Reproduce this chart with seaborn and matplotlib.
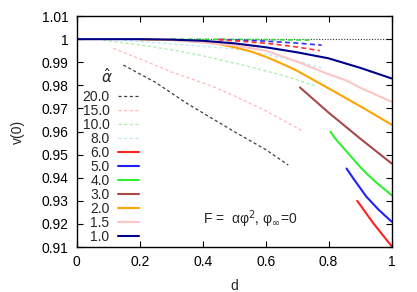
import numpy as np
import pandas as pd
import matplotlib
matplotlib.use("Agg")
import matplotlib.pyplot as plt
import seaborn as sns

# ---- data ----
# solid curves
x_a1 = [0.0, 0.2, 0.3, 0.4, 0.5, 0.6, 0.7, 0.8, 0.9, 1.0]
y_a1 = [1.0, 1.0, 0.9998, 0.9993, 0.9982, 0.9965, 0.9943, 0.9917, 0.9876, 0.983]
x_a15 = [0.3, 0.4, 0.5, 0.6, 0.7, 0.8, 0.857, 0.9, 1.0]
y_a15 = [0.9997, 0.9986, 0.9973, 0.9950, 0.9903, 0.9848, 0.9821, 0.979, 0.9729]
x_a2 = [0.2, 0.3, 0.4, 0.45, 0.5, 0.55, 0.6, 0.65, 0.7, 0.8, 0.9, 1.0]
y_a2 = [0.9999, 0.9997, 0.9988, 0.9979, 0.9965, 0.9948, 0.9924, 0.9895, 0.9863, 0.9787, 0.971, 0.9630]
x_a3 = [0.709, 0.8, 0.9, 1.0]
y_a3 = [0.9791, 0.9682, 0.9570, 0.9462]
x_a4 = [0.806, 0.825, 0.85, 0.9, 0.92, 0.95, 1.0]
y_a4 = [0.9599, 0.9563, 0.9525, 0.9447, 0.9419, 0.9381, 0.9325]
x_a5 = [0.857, 0.88, 0.92, 0.96, 1.0]
y_a5 = [0.944, 0.9394, 0.9318, 0.926, 0.921]
x_a6 = [0.891, 0.942, 1.0]
y_a6 = [0.930, 0.9203, 0.9104]
# dashed curves
x_a20 = [0.148, 0.25, 0.35, 0.421, 0.5, 0.6, 0.672]
y_a20 = [0.9888, 0.9813, 0.9722, 0.9664, 0.9600, 0.9522, 0.9455]
x_a15d = [0.116, 0.2, 0.3, 0.421, 0.5, 0.6, 0.714]
y_a15d = [0.996, 0.9915, 0.9858, 0.9801, 0.9755, 0.969, 0.9605]
x_a10 = [0.084, 0.2, 0.305, 0.391, 0.527, 0.65, 0.76]
y_a10 = [0.9996, 0.9975, 0.9953, 0.9931, 0.9888, 0.9845, 0.9797]
x_a8 = [0.15, 0.25, 0.42, 0.506, 0.6, 0.7, 0.778]
y_a8 = [0.9995, 0.9985, 0.9967, 0.9957, 0.9935, 0.9905, 0.9875]
# extra dashed curves near v(0)=1 (no legend entry)
x_e6 = [0.45, 0.55, 0.624, 0.7, 0.772]
y_e6 = [0.9998, 0.9988, 0.9979, 0.9966, 0.995]
x_e5 = [0.45, 0.59, 0.7, 0.778]
y_e5 = [0.9999, 0.9992, 0.9983, 0.9974]
x_e4 = [0.3, 0.5, 0.74]
y_e4 = [1.0, 0.9999, 0.9996]
x_ref = [0.0, 1.0]
y_ref = [1.0, 1.0]

legend_labels = ["20.0", "15.0", "10.0", "8.0", "6.0", "5.0", "4.0", "3.0", "2.0", "1.5", "1.0"]
x_ticks = [0, 0.2, 0.4, 0.6, 0.8, 1.0]
x_ticklabels = ["0", "0.2", "0.4", "0.6", "0.8", "1"]
y_ticks = [0.91, 0.92, 0.93, 0.94, 0.95, 0.96, 0.97, 0.98, 0.99, 1.0, 1.01]
y_ticklabels = ["0.91", "0.92", "0.93", "0.94", "0.95", "0.96", "0.97", "0.98", "0.99", "1", "1.01"]

sns.set_style("ticks")
plt.rcParams['font.family'] = ['Liberation Sans', 'DejaVu Sans']
plt.rcParams['mathtext.fontset'] = 'dejavusans'

fig = plt.figure(figsize=(4.17, 2.92), dpi=100)
ax = fig.add_axes([0.184, 0.154, 0.755, 0.791])

def draw(x, y, color, ls, lw, label=None):
    df = pd.DataFrame({"d": x, "v": y})
    sns.lineplot(data=df, x="d", y="v", ax=ax, color=color, linestyle=ls,
                 linewidth=lw, label=label, sort=False, estimator=None)

dash = (0, (2.5, 2.0))
# reference dotted line
draw(x_ref, y_ref, "#333333", (0, (1, 1.5)), 0.8)
# extra dashed
draw(x_e4, y_e4, "#30e030", (0, (3, 2)), 1.2)
draw(x_e5, y_e5, "#3030ff", (0, (3, 2)), 1.2)
draw(x_e6, y_e6, "#ff3030", (0, (3, 2)), 1.2)

styles = [
    ("#404040", dash, 0.9),
    ("#ffb8b8", dash, 0.9),
    ("#a8f0a8", dash, 0.9),
    ("#b8e8f4", dash, 0.9),
    ("#ff2020", "-", 1.5),
    ("#2020ff", "-", 1.5),
    ("#30f030", "-", 1.5),
    ("#a84848", "-", 1.5),
    ("#ffa500", "-", 1.5),
    ("#ffc4c4", "-", 1.5),
    ("#00008b", "-", 1.5),
]
curves = [(x_a20, y_a20), (x_a15d, y_a15d), (x_a10, y_a10), (x_a8, y_a8),
          (x_a6, y_a6), (x_a5, y_a5), (x_a4, y_a4), (x_a3, y_a3),
          (x_a2, y_a2), (x_a15, y_a15), (x_a1, y_a1)]
for (x, y), (c, ls, lw), lab in zip(curves, styles, legend_labels):
    draw(x, y, c, ls, lw, lab)

ax.set_xlim(0, 1)
ax.set_ylim(0.91, 1.01)
ax.set_xticks(x_ticks)
ax.set_xticklabels(x_ticklabels)
ax.set_yticks(y_ticks)
ax.set_yticklabels(y_ticklabels)
ax.tick_params(direction="in", top=True, right=True, length=4, width=0.8,
               labelsize=10, pad=6, colors="black")
for s in ax.spines.values():
    s.set_linewidth(1.0)
    s.set_color("black")
ax.set_xlabel("d", fontsize=10, labelpad=7)
ax.set_ylabel("v(0)", fontsize=10, labelpad=12)

ax.text(0.40, 0.9198, "F =  αφ$^2$, φ$_\\infty$=0", fontsize=10,
        ha="left", va="baseline")
ax.text(0.096, 0.9836, r"$\hat{\alpha}$", fontsize=11, ha="center", va="center")

handles, labels = ax.get_legend_handles_labels()
leg = ax.legend(handles, labels, loc="upper left",
                bbox_to_anchor=(0.0, 0.703), frameon=False, markerfirst=False,
                fontsize=10, handlelength=1.45,
                handletextpad=0.65, labelspacing=0.0, borderaxespad=0.2,
                borderpad=0.2)
leg._legend_box.align = "right"

fig.savefig("out.png", dpi=100)
